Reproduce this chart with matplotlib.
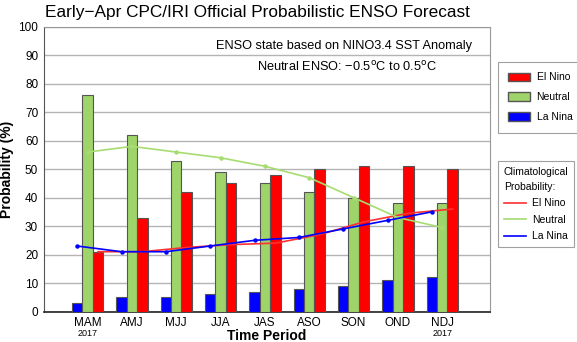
import numpy as np
import matplotlib
matplotlib.use('Agg')
import matplotlib.pyplot as plt
from matplotlib.patches import Patch
from matplotlib.lines import Line2D

plt.rcParams['font.family'] = ['Liberation Sans', 'DejaVu Sans']

# Forecast probabilities (%) per season
periods = ['MAM', 'AMJ', 'MJJ', 'JJA', 'JAS', 'ASO', 'SON', 'OND', 'NDJ']
la_nina = [3, 5, 5, 6, 7, 8, 9, 11, 12]
neutral = [76, 62, 53, 49, 45, 42, 40, 38, 38]
el_nino = [21, 33, 42, 45, 48, 50, 51, 51, 50]

# Climatological probabilities (%)
clim_el_nino = [21, 21, 22.5, 23.5, 24, 27, 31.5, 34.5, 36]
clim_neutral = [56, 58, 56, 54, 51, 47, 40, 33, 29.5]
clim_la_nina = [23, 21, 21, 23, 25, 26, 29, 32, 35]

RED = '#ff0000'
GREEN = '#9ed46a'
BLUE = '#0000ff'

fig = plt.figure(figsize=(5.77, 3.42), dpi=100)
ax = fig.add_axes([43.7 / 577, 30.5 / 342, 446 / 577, 284.7 / 342])

x = np.arange(len(periods))
w = 0.235
ax.bar(x - w, la_nina, w, color=BLUE, edgecolor='#555555', linewidth=0.8, zorder=3)
ax.bar(x, neutral, w, color=GREEN, edgecolor='#555555', linewidth=0.8, zorder=3)
ax.bar(x + w, el_nino, w, color=RED, edgecolor='#555555', linewidth=0.8, zorder=3)

ax.plot(x + w, clim_el_nino, color='#ff3030', lw=1.2, zorder=4)
ax.plot(x, clim_neutral, color='#a6dc70', lw=1.2, marker='o', ms=2.2, zorder=4)
ax.plot(x - w, clim_la_nina, color=BLUE, lw=1.2, marker='o', ms=2.2, zorder=4)

ax.set_xlim(-0.99, 9.07)
ax.set_ylim(0, 100)
ax.set_yticks(range(0, 101, 10))
ax.set_xticks(x)
ax.set_xticklabels(periods, fontsize=8.5)
ax.tick_params(axis='both', length=0, labelsize=8.5, pad=4)
ax.grid(axis='y', color='#b4b4b4', lw=1, zorder=0)
for s in ['top', 'right']:
    ax.spines[s].set_color('#999999')
ax.spines['left'].set_color('#555555')
ax.spines['bottom'].set_color('#222222')
ax.spines['bottom'].set_linewidth(1.2)

ax.set_ylabel('Probability (%)', fontsize=10, fontweight='bold', labelpad=3)
ax.set_xlabel('Time Period', fontsize=10, fontweight='bold', labelpad=0)

for i in (0, len(periods) - 1):
    ax.text(x[i], -7.6, '2017', ha='center', va='center', fontsize=6.5)

fig.text(257 / 577, 1 - 13 / 342, 'Early\u2212Apr CPC/IRI Official Probabilistic ENSO Forecast',
         ha='center', va='center', fontsize=12.4)

ax.text(0.960, 0.933, 'ENSO state based on NINO3.4 SST Anomaly', transform=ax.transAxes,
        ha='right', va='center', fontsize=9.2)
ax.text(0.882, 0.86, 'Neutral ENSO: \u22120.5$^{\\mathrm{o}}$C to 0.5$^{\\mathrm{o}}$C',
        transform=ax.transAxes, ha='right', va='center', fontsize=9.2)

h1 = [Patch(facecolor=RED, edgecolor='#555555', label='El Nino'),
      Patch(facecolor=GREEN, edgecolor='#555555', label='Neutral'),
      Patch(facecolor=BLUE, edgecolor='#555555', label='La Nina')]
leg1 = fig.legend(handles=h1, loc='upper left', bbox_to_anchor=(498 / 577, 1 - 62 / 342),
                  fontsize=7.5, frameon=True, fancybox=False, edgecolor='#888888',
                  handlelength=2.1, handleheight=0.9, borderpad=1.0, labelspacing=0.95,
                  handletextpad=0.6, borderaxespad=0)
leg1.get_frame().set_linewidth(0.8)

h2 = [Line2D([], [], color='#ff3030', lw=1.2, label='El Nino'),
      Line2D([], [], color='#a6dc70', lw=1.2, label='Neutral'),
      Line2D([], [], color=BLUE, lw=1.2, label='La Nina')]
leg2 = fig.legend(handles=h2, loc='upper left', bbox_to_anchor=(498 / 577, 1 - 161 / 342),
                  fontsize=7.5, title='Climatological\nProbability:', title_fontsize=7.5,
                  alignment='left', frameon=True, fancybox=False, edgecolor='#888888',
                  handlelength=2.1, borderpad=0.55, labelspacing=0.62, handletextpad=0.6,
                  borderaxespad=0)
leg2.get_frame().set_linewidth(0.8)
leg2.get_title().set_linespacing(1.65)

fig.savefig('out.png', dpi=100)
